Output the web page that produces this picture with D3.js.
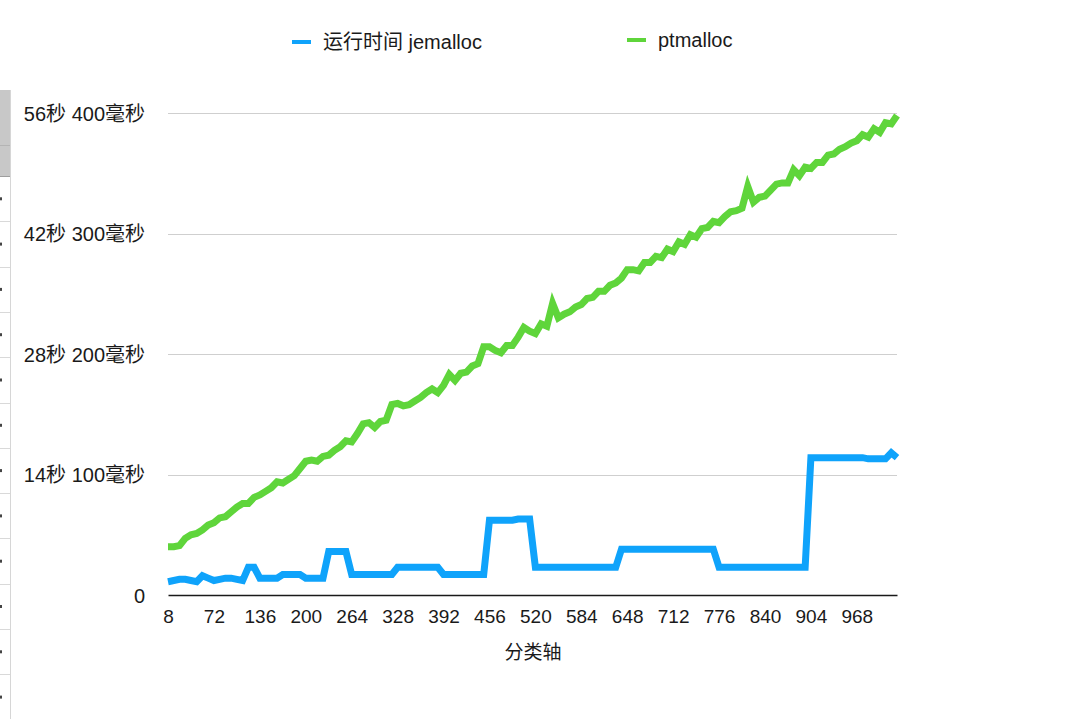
<!DOCTYPE html>
<html>
<head>
<meta charset="utf-8">
<script src="https://cdn.jsdelivr.net/npm/d3@7"></script>
<style>
  body { margin:0; background:#fff; }
  svg text { font-family:"Liberation Sans", "Noto Sans CJK SC", sans-serif; fill:#1a1a1a; }
</style>
</head>
<body>
<div id="chart"></div>
<script>
// data
var categories = [8,16,24,32,40,48,56,64,72,80,88,96,104,112,120,128,136,144,152,160,168,176,184,192,200,208,216,224,232,240,248,256,
  264,272,280,288,296,304,312,320,328,336,344,352,360,368,376,384,392,400,408,416,424,432,440,448,456,464,472,480,488,496,504,512,
  520,528,536,544,552,560,568,576,584,592,600,608,616,624,632,640,648,656,664,672,680,688,696,704,712,720,728,736,744,752,760,768,
  776,784,792,800,808,816,824,832,840,848,856,864,872,880,888,896,904,912,920,928,936,944,952,960,968,976,984,992,1000,1008,1016,1024];

var jemalloc = [11,12,13,13,12,11,16,14,12,13,14,14,13,12,23,23,
  14,14,14,14,17,17,17,17,14,14,14,14,36,36,36,36,
  17,17,17,17,17,17,17,17,23,23,23,23,23,23,23,23,
  17,17,17,17,17,17,17,17,62,62,62,62,62,63,63,63,
  23,23,23,23,23,23,23,23,23,23,23,23,23,23,23,38,
  38,38,38,38,38,38,38,38,38,38,38,38,38,38,38,38,
  23,23,23,23,23,23,23,23,23,23,23,23,23,23,23,23,
  114,114,114,114,114,114,114,114,114,114,113,113,113,113,118,114];

var ptmalloc = [40,40,41,47,50,51,54,58,60,64,65,69,73,76,76,81,
  83,86,89,94,93,96,99,105,111,112,111,115,116,120,123,128,
  127,134,142,143,139,144,145,158,159,157,158,161,164,168,171,168,
  174,183,178,184,185,190,192,206,206,203,201,207,207,214,222,219,
  217,225,223,242,230,233,235,239,241,246,247,252,252,257,259,263,
  270,270,269,276,276,281,280,287,285,293,291,299,297,304,305,310,
  309,314,318,319,321,339,326,330,331,336,341,342,342,353,348,355,
  354,359,359,365,366,370,372,375,377,382,380,387,384,392,391,398];

var yTicks = [0, 100, 200, 300, 400];
var yTickLabels = ["0", "14秒 100毫秒", "28秒 200毫秒", "42秒 300毫秒", "56秒 400毫秒"];
var xTickLabels = [8,72,136,200,264,328,392,456,520,584,648,712,776,840,904,968];
var seriesNames = ["运行时间 jemalloc", "ptmalloc"];
var seriesColors = ["#0fa3fb", "#5fd53b"];

var width = 1080, height = 719;

var svg = d3.select("#chart").append("svg")
              .attr("width", width)
              .attr("height", height);

// spreadsheet strip on the left edge
var side = svg.append("g");
side.append("rect").attr("x", 0).attr("y", 90).attr("width", 10).attr("height", 86).attr("fill", "#c8c8c8");
side.append("line").attr("x1", 0).attr("x2", 10).attr("y1", 145.5).attr("y2", 145.5).attr("stroke", "#b4b4b4");
side.append("line").attr("x1", 0).attr("x2", 10).attr("y1", 176.5).attr("y2", 176.5).attr("stroke", "#9e9e9e");
side.append("line").attr("x1", 10.5).attr("x2", 10.5).attr("y1", 90).attr("y2", height).attr("stroke", "#d6d6d6");
for (var r = 0; r < 12; r++) {
  var ry = 176 + (r + 1) * 45.3;
  side.append("line").attr("x1", 0).attr("x2", 10).attr("y1", Math.round(ry) + 0.5).attr("y2", Math.round(ry) + 0.5).attr("stroke", "#d9d9d9");
  side.append("rect").attr("x", 0).attr("y", ry - 24).attr("width", 2).attr("height", 3).attr("fill", "#444");
}

// scales
var x = d3.scalePoint().domain(categories).range([168, 897]);
var y = d3.scaleLinear().domain([0, 400]).range([595, 113]);

// gridlines
svg.append("g").selectAll("line").data(yTicks.slice(1)).enter()
    .append("line")
      .attr("x1", 168).attr("x2", 897)
      .attr("y1", function(d) { return Math.round(y(d)) + 0.5; })
      .attr("y2", function(d) { return Math.round(y(d)) + 0.5; })
      .attr("stroke", "#cfcfcf")
      .attr("stroke-width", 1);

// axes
var yAxis = svg.append("g")
    .attr("transform", "translate(168,0)")
    .call(d3.axisLeft(y).tickValues(yTicks).tickFormat(function(d, i) { return yTickLabels[i]; }).tickSize(0).tickPadding(23));
yAxis.select(".domain").remove();
yAxis.selectAll("text").style("font-size", "20px").attr("dy", "0.35em");

var xAxis = svg.append("g")
    .attr("transform", "translate(0,595)")
    .call(d3.axisBottom(x).tickValues(xTickLabels).tickSize(0).tickSizeOuter(0).tickPadding(15));
xAxis.select(".domain").attr("stroke", "#1a1a1a").attr("stroke-width", 1.6);
xAxis.selectAll("text").style("font-size", "19px");

svg.append("text")
    .attr("x", 533).attr("y", 659)
    .attr("text-anchor", "middle")
    .style("font-size", "19px")
    .text("分类轴");

// lines
var line = d3.line()
    .x(function(d, i) { return x(categories[i]); })
    .y(function(d) { return y(d); });

[ptmalloc, jemalloc].forEach(function(s, k) {
  svg.append("path")
      .datum(s)
      .attr("d", line)
      .attr("fill", "none")
      .attr("stroke", seriesColors[1 - k])
      .attr("stroke-width", 7)
      .attr("stroke-linejoin", "miter");
});

// legend
var legendPos = [{x:292, y:42, tx:323}, {x:627, y:40, tx:658}];
var legend = svg.append("g").selectAll("g").data(seriesNames).enter()
    .append("g")
      .attr("transform", function(d, i) { return "translate(" + [legendPos[i].x, legendPos[i].y] + ")"; });
legend.append("line")
    .attr("x1", 0).attr("x2", 19)
    .attr("stroke", function(d, i) { return seriesColors[i]; })
    .attr("stroke-width", 4);
legend.append("text")
    .attr("x", function(d, i) { return legendPos[i].tx - legendPos[i].x; })
    .attr("dy", "0.35em")
    .style("font-size", "20px")
    .text(function(d) { return d; });
</script>
</body>
</html>
